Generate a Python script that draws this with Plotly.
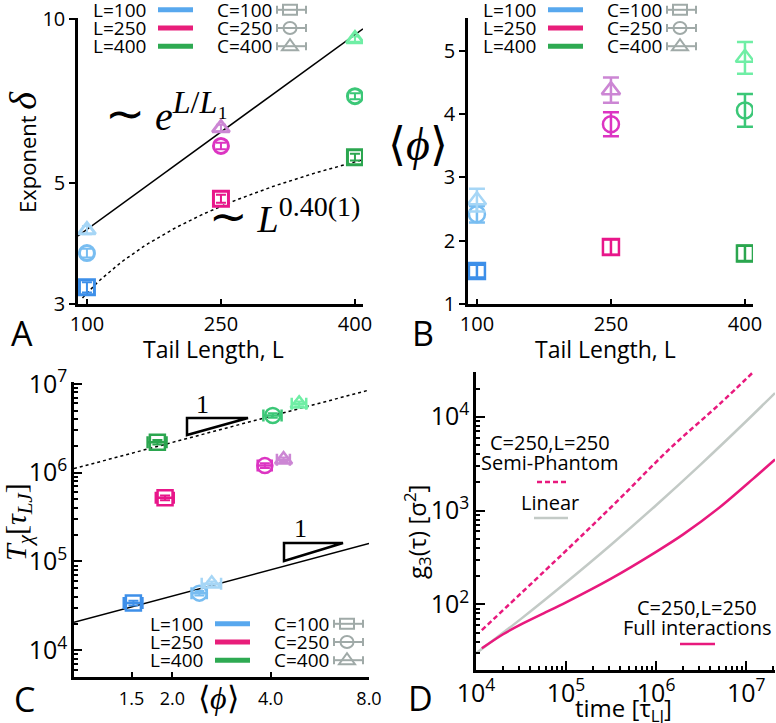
import math
import numpy as np
import plotly.graph_objects as go

W, H = 776, 723

# ---------------- data ----------------
L_values = [100, 250, 400]
L_labels = ["L=100", "L=250", "L=400"]
C_labels = ["C=100", "C=250", "C=400"]

# Panel A: exponent delta (per tail length L, columns C=100,250,400)
delta_L100 = [3.22, 3.72, 4.10]
delta_L250 = [4.68, 5.85, 6.31]
delta_L400 = [5.58, 7.22, 9.19]
delta_err_L100 = [0.07, 0.07, 0.07]
delta_err_L250 = [0.08, 0.08, 0.09]
delta_err_L400 = [0.08, 0.09, 0.10]

# exponential fit line (end points) and power-law fit
expfit_L = [90, 409]
expfit_delta = [4.0, 9.6]
powfit_exponent = 0.40
powfit_prefactor = 0.498
powfit_L = [95, 408]

# Panel B: <phi>
phi_L100 = [1.52, 2.42, 2.64]
phi_L250 = [1.90, 3.84, 4.38]
phi_L400 = [1.80, 4.06, 4.89]
phi_err_L100 = [0.10, 0.13, 0.18]
phi_err_L250 = [0.12, 0.19, 0.20]
phi_err_L400 = [0.12, 0.26, 0.25]

# Panel C: T_chi
T_L100 = [3.4e4, 4.4e4, 5.6e4]
T_L250 = [5.2e5, 1.2e6, 1.4e6]
T_L400 = [2.2e6, 4.4e6, 5.96e6]
T_relerr = [0.06, 0.06, 0.06]

fit_phi = [1.0, 8.0]
fit_T_upper = [1.11e6, 8.5e6]
fit_T_lower = [2.07e4, 1.59e5]

# Panel D: g3(tau)
t_semi = [1.16e4, 1.11e5, 3.98e5, 1.43e6, 5.13e6, 1.2e7]
g_semi = [53, 411, 1350, 4600, 1.38e4, 3.0e4]
t_lin = [1.0e4, 3.16e4, 1.0e5, 3.16e5, 1.0e6, 3.16e6, 1.0e7, 2.09e7]
g_lin = [30, 70, 171, 432, 1140, 3130, 8950, 1.79e4]
t_full = [1.16e4, 2.0e4, 3.16e4, 5.62e4, 1.0e5, 3.16e5, 1.0e6, 2.0e6, 5.13e6, 1.2e7, 2.09e7]
g_full = [34, 48, 61, 80, 105, 188, 363, 557, 1090, 2190, 3500]

# ---------------- style ----------------
point_colors = {
    100: ["#3d8fe9", "#78bdf1", "#a6d6f6"],
    250: ["#e8168a", "#dc34c2", "#cc86d4"],
    400: ["#2ba64f", "#3bc777", "#6feea5"],
}
legend_line_colors = ["#58a8ee", "#e81e7a", "#2eaa52"]
symbols = ["square-open", "circle-open", "triangle-up-open"]
PINK = "#e8197d"
GRAY = "#c3cac6"
GLYPH = "#a0aaa8"
SANS = "Open Sans"
SERIF = "Liberation Serif"

delta = {100: delta_L100, 250: delta_L250, 400: delta_L400}
delta_err = {100: delta_err_L100, 250: delta_err_L250, 400: delta_err_L400}
phi = {100: phi_L100, 250: phi_L250, 400: phi_L400}
phi_err = {100: phi_err_L100, 250: phi_err_L250, 400: phi_err_L400}
Tchi = {100: T_L100, 250: T_L250, 400: T_L400}

fig = go.Figure()

# ---- Panel A ----
fig.add_trace(go.Scatter(x=expfit_L, y=expfit_delta, mode="lines",
                         line=dict(color="black", width=1.5), xaxis="x", yaxis="y"))
Lp = np.linspace(powfit_L[0], powfit_L[1], 60)
fig.add_trace(go.Scatter(x=Lp, y=powfit_prefactor * Lp ** powfit_exponent, mode="lines",
                         line=dict(color="black", width=1.5, dash="dot"), xaxis="x", yaxis="y"))
for L in L_values:
    for j in range(3):
        c = point_colors[L][j]
        fig.add_trace(go.Scatter(
            x=[L], y=[delta[L][j]], mode="markers", xaxis="x", yaxis="y",
            marker=dict(symbol=symbols[j], size=15, color=c, line=dict(width=3, color=c)),
            error_y=dict(type="data", array=[delta_err[L][j]], color=c, thickness=2, width=5)))

# ---- Panel B ----
for L in L_values:
    for j in range(3):
        c = point_colors[L][j]
        fig.add_trace(go.Scatter(
            x=[L], y=[phi[L][j]], mode="markers", xaxis="x2", yaxis="y2",
            marker=dict(symbol=symbols[j], size=16, color=c, line=dict(width=2.5, color=c)),
            error_y=dict(type="data", array=[phi_err[L][j]], color=c, thickness=2.5, width=8)))

# ---- Panel C ----
fig.add_trace(go.Scatter(x=fit_phi, y=fit_T_upper, mode="lines", xaxis="x3", yaxis="y3",
                         line=dict(color="black", width=1.5, dash="dot")))
fig.add_trace(go.Scatter(x=fit_phi, y=fit_T_lower, mode="lines", xaxis="x3", yaxis="y3",
                         line=dict(color="black", width=1.5)))
for L in L_values:
    for j in range(3):
        c = point_colors[L][j]
        fig.add_trace(go.Scatter(
            x=[phi[L][j]], y=[Tchi[L][j]], mode="markers", xaxis="x3", yaxis="y3",
            marker=dict(symbol=symbols[j], size=15, color=c, line=dict(width=2.5, color=c)),
            error_x=dict(type="data", array=[phi_err[L][j]], color=c, thickness=2.5, width=6),
            error_y=dict(type="data", array=[Tchi[L][j] * T_relerr[j]], color=c, thickness=2, width=5)))

# ---- Panel D ----
fig.add_trace(go.Scatter(x=t_semi, y=g_semi, mode="lines", xaxis="x4", yaxis="y4",
                         line=dict(color=PINK, width=2.5, dash="5px,3px", shape="spline")))
fig.add_trace(go.Scatter(x=t_lin, y=g_lin, mode="lines", xaxis="x4", yaxis="y4",
                         line=dict(color=GRAY, width=2.5, shape="spline")))
fig.add_trace(go.Scatter(x=t_full, y=g_full, mode="lines", xaxis="x4", yaxis="y4",
                         line=dict(color=PINK, width=2.5, shape="spline", smoothing=0.8)))


def dom_x(a, b):
    return [a / W, b / W]


def dom_y(top, bottom):
    return [1 - bottom / H, 1 - top / H]


base = dict(showline=True, linecolor="black", linewidth=2.5, showgrid=False, zeroline=False,
            ticks="inside", tickcolor="black", tickwidth=2, ticklen=5, automargin=False,
            tickfont=dict(family=SANS, size=20, color="black"), mirror=False)
minor = dict(ticks="inside", ticklen=4, tickwidth=1.5, tickcolor="black", dtick="D1", showgrid=False)

fig.update_layout(
    width=W, height=H, margin=dict(l=0, r=0, t=0, b=0, autoexpand=False), showlegend=False,
    plot_bgcolor="white", paper_bgcolor="white",
    xaxis=dict(base, domain=dom_x(78, 363), range=[90, 409], tickvals=L_values,
               anchor="y", ticklabelstandoff=0),
    yaxis=dict(base, domain=dom_y(18, 304), type="log", range=[math.log10(3), 1.002],
               tickvals=[3, 5, 10], ticktext=["3", "5", "10"], ticks="outside", ticklen=6,
               anchor="x"),
    xaxis2=dict(base, domain=dom_x(468, 753), range=[90, 409], tickvals=L_values,
                anchor="y2", ticklabelstandoff=0),
    yaxis2=dict(base, domain=dom_y(18, 304), range=[1, 5.52], tickvals=[1, 2, 3, 4, 5],
                ticks="outside", ticklen=6, anchor="x2"),
    xaxis3=dict(base, domain=dom_x(74, 369), type="log", range=[0, math.log10(8)],
                tickvals=[1.5, 2, 4, 8], ticktext=["1.5", "2.0", "4.0", "8.0"],
                tickfont=dict(family=SANS, size=18, color="black"), anchor="y3",
                ticklabelstandoff=4),
    yaxis3=dict(base, domain=dom_y(382, 677), type="log", range=[3.70, 7.02], dtick=1,
                exponentformat="power", ticklen=8, minor=minor, anchor="x3"),
    xaxis4=dict(base, domain=dom_x(476, 775), type="log", range=[4, 7.32], dtick=1,
                exponentformat="power", ticklen=9, minor=minor, anchor="y4",
                ticklabelstandoff=0),
    yaxis4=dict(base, domain=dom_y(372, 670), type="log", range=[1.30, 4.477], dtick=1,
                exponentformat="power", ticklen=9, minor=minor, anchor="x4"),
)

ann = []
shapes = []


def P(x, y):
    return x / W, 1 - y / H


def text(x, y, s, size=20, family=SANS, xanchor="center", angle=0, color="black"):
    px, py = P(x, y)
    ann.append(dict(x=px, y=py, xref="paper", yref="paper", text=s, showarrow=False,
                    xanchor=xanchor, yanchor="middle", textangle=angle,
                    font=dict(family=family, size=size, color=color)))


def seg(x0, y0, x1, y1, color="black", width=2, dash=None):
    a, b = P(x0, y0)
    c, d = P(x1, y1)
    ln = dict(color=color, width=width)
    if dash:
        ln["dash"] = dash
    shapes.append(dict(type="line", xref="paper", yref="paper", x0=a, y0=b, x1=c, y1=d, line=ln))


def path(pts, color="black", width=2):
    s = ""
    for k, (x, y) in enumerate(pts):
        a, b = P(x, y)
        s += ("M" if k == 0 else "L") + f"{a:.5f},{b:.5f} "
    s += "Z"
    shapes.append(dict(type="path", xref="paper", yref="paper", path=s,
                       line=dict(color=color, width=width)))


def legend(dx, dy):
    for i in range(3):
        yy = 9.8 + 18.2 * i + dy
        text(91 + dx, yy, L_labels[i], size=19, xanchor="left")
        seg(158 + dx, yy, 193 + dx, yy, color=legend_line_colors[i], width=5)
        text(274 + dx, yy, C_labels[i], size=19, xanchor="right")
        gx0, gx1, gc = 277 + dx, 306 + dx, 290 + dx
        seg(gx0, yy, gx1, yy, color=GLYPH, width=2)
        seg(gx0, yy - 4, gx0, yy + 4, color=GLYPH, width=2)
        seg(gx1, yy - 4, gx1, yy + 4, color=GLYPH, width=2)
        if i == 0:
            a, b = P(gc - 7, yy - 5)
            c, d = P(gc + 7, yy + 5)
            shapes.append(dict(type="rect", xref="paper", yref="paper", x0=a, y0=b, x1=c, y1=d,
                               line=dict(color=GLYPH, width=2)))
        elif i == 1:
            a, b = P(gc - 6.5, yy - 6)
            c, d = P(gc + 6.5, yy + 6)
            shapes.append(dict(type="circle", xref="paper", yref="paper", x0=a, y0=b, x1=c, y1=d,
                               line=dict(color=GLYPH, width=2)))
        else:
            path([(gc - 8, yy + 4), (gc + 8, yy + 4), (gc, yy - 7)], color=GLYPH, width=2)


legend(0, 0)
legend(390, 0)
legend(57, 614)

# Panel A texts
text(166, 112, "<span style='font-size:48px'>∼</span> <i>e</i>"
               "<sup><span style='font-size:32px'><i>L</i>/<i>L</i>₁</span></sup>",
     size=40, family=SERIF)
text(284, 216, "<span style='font-size:46px'>∼</span> <i>L</i>"
               "<sup><span style='font-size:28px'>0.40(1)</span></sup>",
     size=38, family=SERIF)
text(23, 152, f"Exponent <span style='font-family:{SERIF};font-size:38px'><i>δ</i></span>",
     size=22, angle=-90)
text(213, 349, "Tail Length, L", size=23)
text(22, 333, "A", size=34)

# Panel B texts
text(418, 145, "⟨<i>ϕ</i>⟩", size=46, family=SERIF)
text(605, 349, "Tail Length, L", size=23)
text(423, 333, "B", size=34)

# Panel C texts
text(18, 522, "<i>T</i><sub><i>χ</i></sub>[<i>τ</i><sub><i>LJ</i></sub>]", size=30,
     family=SERIF, angle=-90)
text(218, 698, "⟨<i>ϕ</i>⟩", size=32, family=SERIF)
text(25, 699, "C", size=34)
path([(187, 418), (248, 418), (187, 435)], width=2.5)
text(202, 404, "1", size=26, family=SERIF)
path([(284, 543), (343, 543), (284, 561)], width=2.5)
text(300, 528, "1", size=26, family=SERIF)

# Panel D texts
text(550, 442, "C=250,L=250", size=20)
text(550, 463, "Semi-Phantom", size=20)
seg(537, 482, 568, 482, color=PINK, width=2.5, dash="5px,3px")
text(550, 502, "Linear", size=20)
seg(534, 518, 568, 518, color=GRAY, width=2.5)
text(697, 607, "C=250,L=250", size=20)
text(697, 627, "Full interactions", size=20)
seg(680, 644, 715, 644, color=PINK, width=2.5)
text(417, 532, "g<sub>3</sub>(τ) [σ<sup>2</sup>]", size=24, angle=-90)
text(623, 709, "time [τ<sub>LJ</sub>]", size=24)
text(421, 698, "D", size=34)

fig.update_layout(annotations=ann, shapes=shapes)
fig.write_html("out.html", config={"displayModeBar": False},
               post_script="document.body.style.margin='0';document.body.style.padding='0';")
